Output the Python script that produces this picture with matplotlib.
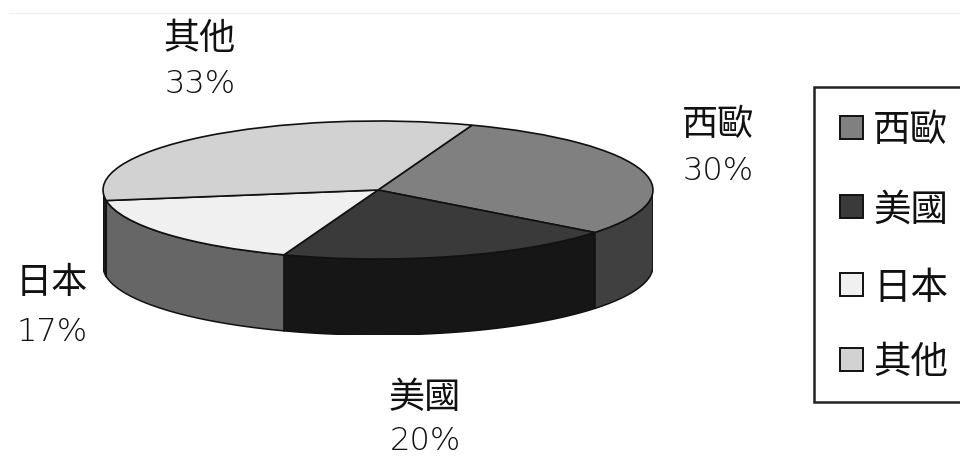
import numpy as np
import matplotlib
matplotlib.use("Agg")
import matplotlib.pyplot as plt
from matplotlib.patches import Rectangle

plt.rcParams['font.family'] = ['Noto Sans CJK TC', 'DejaVu Sans']

# data
names = ['西歐', '美國', '日本', '其他']
shares = [30, 20, 17, 33]
top_colors = ['#808080', '#3a3a3a', '#f0f0f0', '#d2d2d2']
side_colors = ['#404040', '#161616', '#666666', '#1c1c1c']

W, H = 960, 458
# pie ellipse in pixels
cx, cy, rx, ry = 378, 190, 275, 69
depth_px = 76
depth = depth_px / ry
start = 70

fig = plt.figure(figsize=(W / 100, H / 100), dpi=100)

# full figure axes in pixel coords for labels and legend
ax = fig.add_axes([0, 0, 1, 1])
ax.set_xlim(0, W)
ax.set_ylim(H, 0)
ax.axis('off')
ax.plot([9, W], [13, 13], color='#f1f1f1', lw=1)

# pie axes, one data unit is rx wide and ry high
left, right = cx - rx, cx + rx
top, bottom = cy - ry, cy + ry + depth_px
pie_ax = fig.add_axes([left / W, 1 - bottom / H, (right - left) / W, (bottom - top) / H])
pie_ax.patch.set_alpha(0)

# side wall, only the front half shows
edges = start - np.cumsum([0] + shares) * 3.6
for i in range(len(shares)):
    a0 = max(edges[i + 1], -180)
    a1 = min(edges[i], 0)
    if a0 >= a1:
        continue
    t = np.radians(np.linspace(a1, a0, 80))
    xs = np.concatenate([np.cos(t), np.cos(t[::-1])])
    ys = np.concatenate([np.sin(t), np.sin(t[::-1]) - depth])
    pie_ax.fill(xs, ys, facecolor=side_colors[i], edgecolor='#111111', lw=1.1)

pie_ax.pie(shares, colors=top_colors, startangle=start, counterclock=False, radius=1,
           wedgeprops={'edgecolor': '#111111', 'linewidth': 1.2})
pie_ax.set_aspect('auto')
pie_ax.set_xlim(-1, 1)
pie_ax.set_ylim(-1 - depth, 1)
pie_ax.axis('off')

# slice labels
label_pos = [(718, 125, 171), (425, 398, 441), (52, 283, 332), (200, 39, 84)]
for name, share, (x, y1, y2) in zip(names, shares, label_pos):
    ax.text(x, y1, name, fontsize=26, ha='center', va='center', color='#111111')
    ax.text(x, y2, f'{share}%', fontsize=23, ha='center', va='center', color='#111111',
            family='DejaVu Sans', fontweight='light')

# legend box runs off the right side
ax.add_patch(Rectangle((814, 87), 160, 315, facecolor='white', edgecolor='#222222', lw=1.8))
legend_y = [128, 207, 285, 360]
for name, color, y in zip(names, top_colors, legend_y):
    ax.add_patch(Rectangle((840, y - 12), 23, 23, facecolor=color, edgecolor='#111111', lw=1.4))
    ax.text(873, y + 3, name, fontsize=27, ha='left', va='center', color='#111111')

fig.savefig('out.png', dpi=100)
